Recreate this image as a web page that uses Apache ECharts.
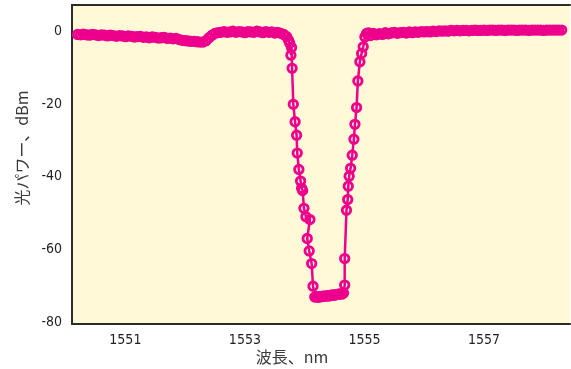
<!DOCTYPE html>
<html><head><meta charset="utf-8">
<script src="https://cdn.jsdelivr.net/npm/echarts@6/dist/echarts.min.js"></script>
<style>html,body{margin:0;padding:0;background:#fff}#c{width:571px;height:369px}</style>
</head><body><div id="c"></div>
<script>
// wavelength (nm) and optical power (dBm), in drawing order
const wavelength = [
 1550.20,1550.25,1550.30,1550.35,1550.40,1550.45,1550.50,1550.55,1550.60,1550.65,
 1550.70,1550.75,1550.80,1550.85,1550.90,1550.95,1551.00,1551.05,1551.10,1551.15,
 1551.20,1551.25,1551.30,1551.35,1551.40,1551.45,1551.50,1551.55,1551.60,1551.65,
 1551.70,1551.75,1551.80,1551.85,1551.90,1551.95,1552.00,1552.05,1552.10,1552.15,
 1552.20,1552.25,1552.30,1552.35,1552.40,1552.45,1552.50,1552.55,1552.60,1552.65,
 1552.70,1552.75,1552.80,1552.85,1552.90,1552.95,1553.00,1553.05,1553.10,1553.15,
 1553.20,1553.25,1553.30,1553.35,1553.40,1553.45,1553.50,1553.55,1553.60,1553.65,
 1553.70,1553.73,1553.75,1553.77,1553.78,1553.79,1553.81,1553.84,1553.865,1553.876,
 1553.903,1553.932,1553.949,1553.966,1553.988,1554.021,1554.088,1554.043,1554.076,1554.117,
 1554.14,1554.17,1554.20,1554.23,1554.26,1554.29,1554.32,1554.35,1554.38,1554.41,
 1554.44,1554.47,1554.50,1554.53,1554.56,1554.59,1554.62,1554.65,
 1554.67,1554.67,1554.70,1554.72,1554.73,1554.745,1554.769,1554.796,1554.824,1554.841,
 1554.869,1554.89,1554.924,1554.953,1554.98,1555.008,1555.036,
 1555.07,1555.10,1555.15,1555.20,1555.25,1555.30,1555.35,1555.40,1555.45,1555.50,
 1555.55,1555.60,1555.65,1555.70,1555.75,1555.80,1555.85,1555.90,1555.95,1556.00,
 1556.05,1556.10,1556.15,1556.20,1556.25,1556.30,1556.35,1556.40,1556.45,1556.50,
 1556.55,1556.60,1556.65,1556.70,1556.75,1556.80,1556.85,1556.90,1556.95,1557.00,
 1557.05,1557.10,1557.15,1557.20,1557.25,1557.30,1557.35,1557.40,1557.45,1557.50,
 1557.55,1557.60,1557.65,1557.70,1557.75,1557.80,1557.85,1557.90,1557.95,1558.00,
 1558.05,1558.10,1558.15,1558.20,1558.25,1558.30
];
const power = [
 -0.9,-1.0,-0.8,-1.0,-1.1,-0.9,-1.0,-1.2,-1.0,-1.1,
 -1.3,-1.1,-1.2,-1.4,-1.2,-1.3,-1.5,-1.3,-1.4,-1.6,
 -1.5,-1.4,-1.7,-1.6,-1.8,-1.6,-1.7,-1.9,-1.8,-1.7,
 -2.0,-1.9,-2.1,-2.0,-2.3,-2.5,-2.6,-2.7,-2.8,-2.8,
 -2.9,-3.0,-3.0,-2.6,-1.8,-1.1,-0.6,-0.4,-0.3,-0.1,
 -0.3,-0.2,0.0,-0.3,-0.1,-0.2,-0.4,-0.1,-0.2,-0.3,
 0.0,-0.2,-0.4,-0.1,-0.3,-0.2,-0.5,-0.3,-0.6,-0.9,
 -1.5,-2.5,-3.3,-6.6,-4.5,-10.2,-20.1,-24.9,-28.6,-33.5,
 -38.0,-41.2,-43.2,-43.8,-48.7,-51.0,-51.8,-57.0,-60.4,-63.9,
 -70.1,-73.1,-73.0,-73.2,-72.9,-73.0,-72.8,-72.9,-72.7,-72.8,
 -72.6,-72.5,-72.6,-72.4,-72.3,-72.2,-72.3,-72.0,
 -69.8,-62.5,-49.2,-46.3,-42.6,-39.9,-37.7,-34.1,-29.7,-25.6,
 -21.0,-13.7,-8.4,-6.1,-4.3,-1.6,-0.6,
 -0.5,-1.2,-0.6,-1.0,-0.7,-0.9,-0.4,-0.7,-0.5,-0.3,
 -0.6,-0.4,-0.3,-0.5,-0.2,-0.4,-0.2,-0.3,-0.1,-0.2,
 -0.1,-0.2,0.0,-0.1,0.1,0.0,0.1,0.0,0.2,0.1,
 0.2,0.1,0.2,0.2,0.1,0.2,0.3,0.2,0.2,0.3,
 0.2,0.3,0.3,0.2,0.3,0.3,0.2,0.3,0.3,0.3,
 0.2,0.3,0.3,0.3,0.2,0.3,0.3,0.3,0.3,0.2,
 0.3,0.3,0.3,0.3,0.3,0.3
];
const xTickLabels = [1551, 1553, 1555, 1557];
const yTickLabels = [0, -20, -40, -60, -80];
const xName = '波長、nm';
const yName = '光パワー、dBm';

const points = wavelength.map((w, i) => [w, power[i]]);
const labelFont = {color: '#231F20', fontSize: 14, fontFamily: '"DejaVu Sans Condensed", "Liberation Sans Narrow", "Roboto", sans-serif'};
const plain = v => String(Math.round(v));
const chart = echarts.init(document.getElementById('c'));
chart.setOption({
  animation: false,
  grid: {left: 72, right: 1, top: 5, bottom: 45, show: true, backgroundColor: '#FFF9D7', borderWidth: 0},
  xAxis: [{
    type: 'value', min: 1550.107, max: 1558.44, position: 'bottom',
    axisLine: {show: true, onZero: false, lineStyle: {color: '#2B2B2B', width: 2}},
    axisTick: {show: false}, splitLine: {show: false},
    axisLabel: Object.assign({margin: 9, customValues: xTickLabels, formatter: plain}, labelFont)
  }, {
    type: 'value', min: 1550.107, max: 1558.44, position: 'top',
    axisLine: {show: true, onZero: false, lineStyle: {color: '#2B2B2B', width: 2}},
    axisTick: {show: false}, splitLine: {show: false}, axisLabel: {show: false}
  }],
  yAxis: {
    type: 'value', min: -80.5, max: 7.2,
    axisLine: {show: true, onZero: false, lineStyle: {color: '#2B2B2B', width: 2}},
    axisTick: {show: false}, splitLine: {show: false},
    axisLabel: Object.assign({margin: 10, customValues: yTickLabels, formatter: plain}, labelFont)
  },
  graphic: [
    {type: 'text', x: 292, y: 357, style: {text: xName, fill: '#3A3A3A', fontSize: 16, fontFamily: '"Noto Sans CJK JP", sans-serif', align: 'center', verticalAlign: 'middle'}},
    {type: 'text', x: 22, y: 148, rotation: Math.PI / 2, style: {text: yName, fill: '#3A3A3A', fontSize: 16, fontFamily: '"Noto Sans CJK JP", sans-serif', align: 'center', verticalAlign: 'middle'}}
  ],
  series: [{
    type: 'line', data: points, xAxisIndex: 0,
    symbol: 'circle', symbolSize: 8.5, showAllSymbol: true,
    lineStyle: {color: '#EC008C', width: 2.5},
    itemStyle: {color: 'rgba(0,0,0,0)', borderColor: '#EC008C', borderWidth: 2.8},
    emphasis: {disabled: true}
  }]
});
</script></body></html>
